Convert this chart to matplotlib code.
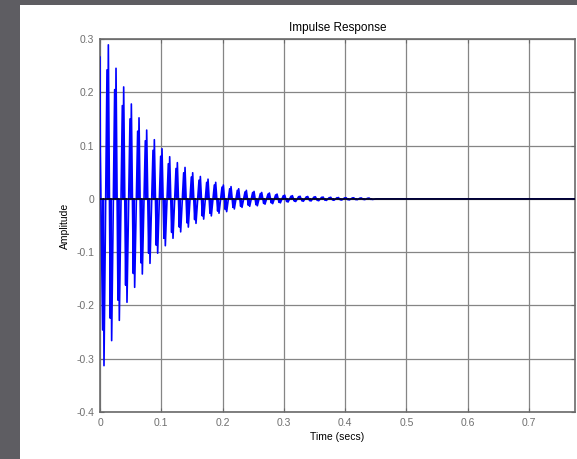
import numpy as np
import matplotlib.pyplot as plt
from matplotlib.patches import Rectangle

# oscillation period read from spike spacing (s) and the negative offset within it
period = 0.01251
neg_offset = 0.0054
pair_gap = 0.0011
t_end = 0.775

# per-cycle spike tips (higher and lower stroke of each pair)
pos_hi = [0.266, 0.289, 0.245, 0.210, 0.178, 0.152, 0.129, 0.111, 0.094, 0.079,
          0.068, 0.059, 0.049, 0.042, 0.037, 0.031, 0.026, 0.023, 0.019, 0.016,
          0.014, 0.012, 0.011, 0.009, 0.007, 0.006, 0.005, 0.0045, 0.004, 0.0035,
          0.003, 0.0026, 0.0022, 0.002, 0.0017, 0.0015]
pos_lo = [0.090, 0.242, 0.205, 0.175, 0.150, 0.127, 0.109, 0.091, 0.080, 0.066,
          0.057, 0.049, 0.041, 0.035, 0.031, 0.026, 0.022, 0.019, 0.016, 0.013,
          0.012, 0.010, 0.009, 0.0075, 0.006, 0.005, 0.0042, 0.0038, 0.0034, 0.003,
          0.0025, 0.0022, 0.0019, 0.0017, 0.0014, 0.0012]
neg_hi = [-0.313, -0.266, -0.228, -0.194, -0.166, -0.141, -0.121, -0.102, -0.088, -0.074,
          -0.062, -0.053, -0.046, -0.038, -0.032, -0.027, -0.024, -0.019, -0.016, -0.014,
          -0.013, -0.010, -0.009, -0.0075, -0.006, -0.005, -0.0045, -0.004, -0.0035, -0.003,
          -0.0026, -0.0022, -0.002, -0.0017, -0.0015, -0.0012]
neg_lo = [-0.246, -0.224, -0.190, -0.162, -0.140, -0.120, -0.102, -0.087, -0.074, -0.063,
          -0.053, -0.045, -0.039, -0.032, -0.027, -0.023, -0.020, -0.016, -0.014, -0.012,
          -0.011, -0.0085, -0.0075, -0.0065, -0.005, -0.0042, -0.0038, -0.0034, -0.003, -0.0026,
          -0.0022, -0.0019, -0.0017, -0.0014, -0.0012, -0.001]

x_ticks = [0, 0.1, 0.2, 0.3, 0.4, 0.5, 0.6, 0.7]
x_labels = ['0', '0.1', '0.2', '0.3', '0.4', '0.5', '0.6', '0.7']
y_ticks = [-0.4, -0.3, -0.2, -0.1, 0, 0.1, 0.2, 0.3]
y_labels = ['-0.4', '-0.3', '-0.2', '-0.1', '0', '0.1', '0.2', '0.3']

# assemble the polyline: lower stroke, back to zero, higher stroke, for each half-cycle
ts, ys = [0.0], [pos_hi[0]]
ts += [0.0005]; ys += [pos_lo[0]]
for k in range(len(pos_hi)):
    tk = k * period
    if k > 0:
        ts += [tk - pair_gap, tk, tk + pair_gap]
        ys += [pos_lo[k], 0.0, pos_hi[k]]
    tn = tk + neg_offset
    ts += [tn - pair_gap, tn, tn + pair_gap]
    ys += [neg_lo[k], 0.0, neg_hi[k]]
ts += [len(pos_hi) * period, t_end]
ys += [0.0, 0.0]

plt.rcParams['font.family'] = ['Liberation Sans', 'DejaVu Sans']

fig = plt.figure(figsize=(5.77, 4.59), dpi=100)
fig.patch.set_facecolor('#5e5d62')
panel = Rectangle((20 / 577, 0), 1, 1 - 5 / 459, transform=fig.transFigure,
                  facecolor='white', edgecolor='none', zorder=-10)
fig.add_artist(panel)

ax = fig.add_axes([100 / 577, 1 - 412 / 459, 475 / 577, 373 / 459])
ax.set_zorder(1)
ax.plot(ts, ys, color='#0000ff', lw=1.2, zorder=3)
ax.axhline(0, color='black', lw=1.1, zorder=4)

ax.set_xlim(0, t_end)
ax.set_ylim(-0.4, 0.3)
ax.set_xticks(x_ticks)
ax.set_xticklabels(x_labels)
ax.set_yticks(y_ticks)
ax.set_yticklabels(y_labels)
ax.grid(True, color='#858585', lw=0.9, linestyle='-')
ax.set_axisbelow(True)
for s in ax.spines.values():
    s.set_color('#6a6a6a')
    s.set_linewidth(1.2)
ax.tick_params(direction='in', length=3, color='#6a6a6a', labelcolor='#6f6f6f',
               labelsize=7.5, top=True, right=True, pad=4)

ax.set_title('Impulse Response', fontsize=8.5, pad=6)
ax.set_xlabel('Time (secs)', fontsize=7.5, labelpad=3)
ax.set_ylabel('Amplitude', fontsize=7.5, labelpad=5)

fig.savefig('out.png', dpi=100, facecolor=fig.get_facecolor())
